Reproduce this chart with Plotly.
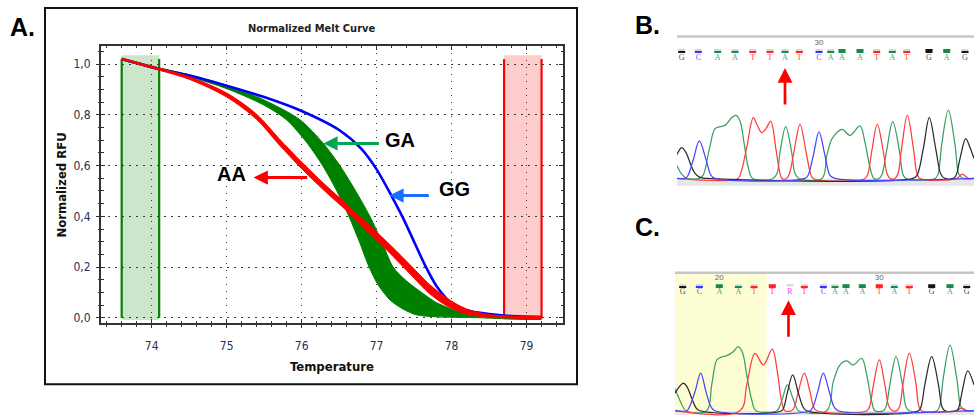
import plotly.graph_objects as go

W, H = 974, 418


def fx(px):
    return px / W


def fy(py):
    return 1 - py / H


# ---------------- Panel A: normalized melt curves ----------------
temp_ticks = [74, 75, 76, 77, 78, 79]
temp_ticktext = ["74", "75", "76", "77", "78", "79"]
rfu_ticks = [0.0, 0.2, 0.4, 0.6, 0.8, 1.0]
rfu_ticktext = ["0,0", "0,2", "0,4", "0,6", "0,8", "1,0"]

pre_melt_region = [73.6, 74.1]
post_melt_region = [78.7, 79.2]

# GG homozygote (single curve)
gg_temp = [73.6, 74.1, 74.5, 75.0, 75.5, 76.0, 76.5, 76.8, 77.0, 77.2, 77.35, 77.5,
           77.65, 77.8, 78.0, 78.2, 78.5, 78.8, 79.2]
gg_rfu = [1.02, 0.98, 0.955, 0.915, 0.87, 0.815, 0.74, 0.665, 0.585, 0.48, 0.395, 0.30,
          0.205, 0.125, 0.058, 0.03, 0.015, 0.007, 0.003]

# GA heterozygote replicates: outer envelope of the curve bundle
ga_upper_temp = [73.6, 74.1, 74.5, 75.0, 75.5, 75.98, 76.29, 76.51, 76.72, 76.91, 77.07,
                 77.22, 77.4, 77.6, 77.8, 78.1, 78.4, 78.8, 79.2]
ga_upper_rfu = [1.024, 0.985, 0.958, 0.916, 0.858, 0.78, 0.687, 0.6, 0.5, 0.4, 0.3,
                0.2, 0.145, 0.1, 0.06, 0.025, 0.01, 0.003, 0.0]
ga_lower_temp = [73.6, 74.1, 74.5, 75.0, 75.5, 75.8, 76.07, 76.28, 76.47, 76.63, 76.77,
                 76.9, 77.02, 77.18, 77.35, 77.53, 77.8, 78.3, 79.2]
ga_lower_rfu = [1.016, 0.977, 0.95, 0.903, 0.838, 0.78, 0.69, 0.6, 0.5, 0.4, 0.3,
                0.2, 0.13, 0.07, 0.035, 0.012, 0.004, 0.001, -0.004]

# AA homozygote replicates: outer envelope
aa_temp = [73.6, 74.1, 74.5, 75.0, 75.4, 75.7, 76.0, 76.3, 76.6, 76.9, 77.2, 77.45,
           77.7, 77.95, 78.2, 78.5, 78.8, 79.2]
aa_upper_rfu = [1.023, 0.984, 0.95, 0.886, 0.802, 0.706, 0.614, 0.528, 0.448, 0.365, 0.282,
                0.208, 0.133, 0.075, 0.035, 0.013, 0.007, 0.003]
aa_lower_rfu = [1.017, 0.976, 0.94, 0.87, 0.782, 0.682, 0.588, 0.502, 0.422, 0.335, 0.248,
                0.172, 0.097, 0.045, 0.015, 0.003, -0.001, -0.004]

# ---------------- Panels B / C: sequencing chromatograms ----------------
b_calls = "GCAATTATCAAATATGAG"
b_call_pos = [4.7, 21.3, 40.7, 58, 75.7, 93, 108, 122.3, 142, 153.7, 165, 183, 199.7,
              215.3, 229.7, 252, 269.7, 288]
b_quality = [1, 1, 1, 1, 1, 1, 1, 1, 1, 0.5, 2, 2, 1, 1, 1, 2, 2, 1]
b_number_pos = [142]
b_number_text = ["30"]
b_marked = 6

b_trace = {
    "A": ([0, 4.7, 9.7, 22, 26, 32.3, 38, 43, 48, 54.7, 59, 63, 67, 71.3, 75.7, 96, 100, 103,
           108.7, 114.7, 118, 122, 145, 149.7, 154.7, 159.7, 165.3, 173, 183, 188, 193, 197,
           202, 205, 209.7, 215.7, 222.3, 226, 229, 258, 261, 264.7, 271.3, 278, 282, 286.3, 297],
          [12.7, 4.3, 0, 0, 3, 29.3, 50, 52, 53.3, 61, 63.3, 57.7, 36, 11, 0, 0, 5, 26,
           52, 26, 5, 0, 0, 22.7, 39.3, 46, 49.3, 43.3, 52.7, 36, 11, 0,
           0, 4, 28.5, 57, 28.5, 4, 0, 0, 4, 34, 68.7, 34, 4, 0, 0]),
    "T": ([0, 61, 64, 69.7, 76.3, 80, 84.7, 89, 93.7, 99, 102, 105, 109.7, 112.5, 117, 123,
           129, 133.5, 136.3, 188, 191, 194.7, 200.3, 206.3, 210, 213, 218, 221, 224.7, 230.3,
           236.3, 240, 243, 279.7, 285.3, 291.3, 297],
          [0, 0, 6, 31, 61, 54, 46, 50, 57.7, 29, 10, 0, 0, 5, 27, 54.3,
           27, 5, 0, 0, 5, 27, 54.3, 27, 5, 0, 0, 5, 31, 63.3,
           31, 5, 0, 0, 4.3, 0, 0]),
    "G": ([0, 4.7, 9, 13.7, 18, 23, 30, 236, 240, 246.3, 252.3, 258.7, 264, 268, 276, 279,
           283, 288.7, 293, 297],
          [24, 31, 26, 14, 5, 1, 0, 0, 3, 30, 61, 30, 4, 0, 0, 3,
           20, 40, 31, 20]),
    "C": ([0, 8, 11, 16.3, 22.3, 29, 34, 38, 128, 131, 136.3, 142, 148, 153, 158, 297],
          [0, 0, 3, 19, 37.7, 19, 3, 0, 0, 3, 23, 46.7, 23, 3, 0, 0]),
}

c_calls = "GCAATTRTCAAATATGAG"
c_call_pos = [7.7, 24.3, 44.3, 63.3, 79, 97.3, 115, 129.3, 148.3, 160, 171, 187.3, 204.3,
              219.3, 234.3, 256.7, 275, 291.7]
c_quality = [1, 1, 2, 1, 1, 2, 0, 1, 1, 1, 2, 2, 2, 1, 1, 2, 2, 1]
c_number_pos = [44.3, 204.3]
c_number_text = ["20", "30"]
c_marked = 6
c_highlight_end = 91.7

c_trace = {
    "A": ([0, 6, 11, 31.7, 36.7, 41.7, 45, 51.7, 58.3, 63.3, 67.7, 71.7, 76.7, 81, 101.7, 104.5,
           107.7, 112.3, 117.7, 121, 123.3, 151.7, 158.3, 165, 171.7, 178.3, 186.7, 191.7, 196.7,
           200, 208.3, 211, 215, 221, 227.3, 231, 234.3, 261.7, 264.5, 268.3, 275, 281.7, 286,
           290, 299],
          [22, 8, 0, 0, 26, 51, 53.3, 55.3, 59.3, 64.3, 57.7, 36, 11, 0, 0, 4,
           13, 26, 13, 4, 0, 0, 29.3, 46, 50, 46, 52.7, 36, 9.3,
           0, 0, 4, 27, 54.3, 27, 4, 0, 0, 4, 33, 66, 33, 4,
           0, 0]),
    "T": ([0, 65, 71.7, 80, 88.3, 97.3, 102.3, 106.7, 110, 116.7, 119.5, 123.3, 129.3, 135,
           138.5, 141.7, 191.7, 194.5, 198.3, 204.3, 210, 214, 217.7, 221.7, 224.5, 228.3, 234.3,
           240.7, 244, 246.7, 281, 286.7, 292, 299],
          [0, 0, 26, 57.7, 46, 62, 39.3, 9.3, 0, 0, 4, 19, 37.7, 19,
           4, 0, 0, 4, 25, 51, 25, 4, 0, 0, 4, 29, 57.7,
           29, 4, 0, 0, 2.7, 0, 0]),
    "G": ([0, 8.3, 12, 16.7, 21, 25, 106.7, 109, 112.3, 117.7, 123.3, 128, 131.7, 243.3, 246,
           250, 256.7, 263.3, 267, 270, 281.7, 284, 287.3, 292.7, 299],
          [17.7, 27.7, 24, 12.7, 3, 0, 0, 4, 18, 36, 18, 4, 0, 0, 4,
           27, 54.3, 27, 4, 0, 0, 4, 20, 40, 26]),
    "C": ([0, 11.7, 14.5, 20, 25.7, 31, 36, 40, 135, 138, 142.7, 148.3, 154.3, 159, 163.3, 299],
          [0, 0, 4, 19, 37.7, 19, 4, 0, 0, 4, 19, 37.7, 19, 4, 0, 0]),
}

trace_color = {"A": "#3c9e64", "T": "#ff3c3c", "G": "#2a2a2a", "C": "#4646ff"}
letter_color = {"A": "#45a571", "T": "#ff4d4d", "G": "#555555", "C": "#5a5aff", "R": "#ff3cff"}
bar_color = {"A": "#178a4a", "T": "#ff2424", "G": "#151515", "C": "#3434ff", "R": "#d6d6d6"}

NARROW = "Liberation Sans Narrow, DejaVu Sans Condensed, Arial Narrow, sans-serif"
BOLD = "Liberation Sans, Arial, sans-serif"

fig = go.Figure()

# melt curves: GA bundle, GG, AA bundle on top
fig.add_trace(go.Scatter(
    x=ga_upper_temp + ga_lower_temp[::-1], y=ga_upper_rfu + ga_lower_rfu[::-1],
    fill="toself", fillcolor="#008000", mode="lines",
    line=dict(color="#008000", width=1.0, shape="spline", smoothing=0.8),
    xaxis="x", yaxis="y", hoverinfo="skip"))
fig.add_trace(go.Scatter(
    x=gg_temp, y=gg_rfu, mode="lines",
    line=dict(color="#0000ff", width=2.6, shape="spline", smoothing=0.8),
    xaxis="x", yaxis="y", hoverinfo="skip"))
fig.add_trace(go.Scatter(
    x=aa_temp + aa_temp[::-1], y=aa_upper_rfu + aa_lower_rfu[::-1],
    fill="toself", fillcolor="#ff0000", mode="lines",
    line=dict(color="#ff0000", width=1.0, shape="spline", smoothing=0.9),
    xaxis="x", yaxis="y", hoverinfo="skip"))
# carrier for the outward tick axes
fig.add_trace(go.Scatter(x=[None], y=[None], xaxis="x4", yaxis="y4", hoverinfo="skip"))


def chromatogram(calls, pos, quality, traces, numbers_pos, numbers_text, xa, ya,
                 y_letter, y_bar_hi, y_bar_lo, y_num):
    for base in ["A", "T", "G", "C"]:
        xs, ys = traces[base]
        fig.add_trace(go.Scatter(
            x=xs, y=ys, mode="lines",
            line=dict(color=trace_color[base], width=1.25, shape="spline", smoothing=1.0),
            xaxis=xa, yaxis=ya, hoverinfo="skip"))
    # quality bars: grey cap + coloured part
    fig.add_trace(go.Scatter(
        x=pos, y=[y_bar_hi] * len(pos), mode="markers",
        marker=dict(symbol="line-ew", size=5, line=dict(width=2, color="#d6d6d6")),
        xaxis=xa, yaxis=ya, hoverinfo="skip"))
    lo_x = [p for p, q in zip(pos, quality) if q > 0]
    lo_c = [bar_color[b] for b, q in zip(calls, quality) if q > 0]
    fig.add_trace(go.Scatter(
        x=lo_x, y=[y_bar_lo] * len(lo_x), mode="markers",
        marker=dict(symbol="line-ew", size=5, line=dict(width=2, color=lo_c)),
        xaxis=xa, yaxis=ya, hoverinfo="skip"))
    hi_x = [p for p, q in zip(pos, quality) if q >= 2]
    hi_c = [bar_color[b] for b, q in zip(calls, quality) if q >= 2]
    fig.add_trace(go.Scatter(
        x=hi_x, y=[y_bar_hi] * len(hi_x), mode="markers",
        marker=dict(symbol="line-ew", size=5, line=dict(width=2, color=hi_c)),
        xaxis=xa, yaxis=ya, hoverinfo="skip"))
    fig.add_trace(go.Scatter(
        x=pos, y=[y_letter] * len(pos), mode="text", text=list(calls),
        textfont=dict(family="Liberation Serif, DejaVu Serif, serif", size=8,
                      color=[letter_color[b] for b in calls]),
        xaxis=xa, yaxis=ya, hoverinfo="skip", cliponaxis=False))
    fig.add_trace(go.Scatter(
        x=numbers_pos, y=[y_num] * len(numbers_pos), mode="text", text=numbers_text,
        textfont=dict(family=BOLD, size=8, color="#666666"),
        xaxis=xa, yaxis=ya, hoverinfo="skip", cliponaxis=False))


chromatogram(b_calls, b_call_pos, b_quality, b_trace, b_number_pos, b_number_text,
             "x2", "y2", 121.0, 129.0, 127.0, 136.0)
chromatogram(c_calls, c_call_pos, c_quality, c_trace, c_number_pos, c_number_text,
             "x3", "y3", 119.4, 126.2, 124.2, 133.4)

shapes = []
# normalization regions on the melt plot
for (t0, t1), fillc, edge in [(pre_melt_region, "rgba(0,128,0,0.2)", "#008000"),
                              (post_melt_region, "rgba(255,0,0,0.2)", "#ff0000")]:
    shapes.append(dict(type="rect", xref="x", yref="y", x0=t0, x1=t1, y0=-0.008, y1=1.035,
                       fillcolor=fillc, line=dict(width=0), layer="below"))
    for t in (t0, t1):
        shapes.append(dict(type="line", xref="x", yref="y", x0=t, x1=t, y0=0.0, y1=1.02,
                           line=dict(color=edge, width=2.2), layer="below"))

# panel frame around A
shapes.append(dict(type="rect", xref="paper", yref="paper", x0=fx(45), x1=fx(577),
                   y0=fy(386), y1=fy(8), line=dict(color="#111111", width=2)))

# chromatogram decorations
shapes.append(dict(type="rect", xref="x3", yref="y3", x0=0, x1=c_highlight_end, y0=0, y1=137.2,
                   fillcolor="#fdfdd4", line=dict(width=0), layer="below"))
for xa, ya, y_lo, y_bar in [("x2", "y2", -7.4, 142.6), ("x3", "y3", -4.0, 138.7)]:
    shapes.append(dict(type="rect", xref=xa + " domain", yref=ya, x0=0, x1=1, y0=y_lo, y1=-0.4,
                       fillcolor="#e6e6e6", line=dict(width=0), layer="below"))
    shapes.append(dict(type="rect", xref=xa + " domain", yref=ya, x0=0, x1=1,
                       y0=y_bar - 1.3, y1=y_bar + 1.3,
                       fillcolor="#c6c6c6", line=dict(width=0), layer="below"))


def label(text, x, y, size, family=BOLD, color="#000000", xref="paper", yref="paper", **kw):
    return dict(text=text, x=x, y=y, xref=xref, yref=yref, showarrow=False,
                xanchor="center", yanchor="middle",
                font=dict(family=family, size=size, color=color), **kw)


def arrow(x, y, ax, ay, color, xref, yref, width, size):
    return dict(text="", x=x, y=y, xref=xref, yref=yref, ax=ax, ay=ay, showarrow=True,
                arrowhead=2, arrowsize=size, arrowwidth=width, arrowcolor=color)


annotations = [
    label("<b>A.</b>", fx(22), fy(27), 25),
    label("<b>B.</b>", fx(647), fy(25.5), 25),
    label("<b>C.</b>", fx(647), fy(228.5), 25),
    label("<b>Normalized Melt Curve</b>", fx(312), fy(29), 11, NARROW, "#222222"),
    label("<b>Temperature</b>", fx(332), fy(368), 13, NARROW, "#111111"),
    label("<b>Normalized RFU</b>", fx(61.5), fy(186), 13, NARROW, "#111111", textangle=-90),
    # genotype labels and arrows
    label("<b>GA</b>", 77.31, 0.70, 20, xref="x", yref="y"),
    label("<b>AA</b>", 75.06, 0.568, 20, xref="x", yref="y"),
    label("<b>GG</b>", 78.04, 0.509, 20, xref="x", yref="y"),
    arrow(76.29, 0.687, 57, 0, "#00a651", "x", "y", 3, 0.95),
    arrow(75.36, 0.553, 55, 0, "#ff0000", "x", "y", 3, 0.95),
    arrow(77.17, 0.482, 41, 0, "#1a6dff", "x", "y", 3, 0.95),
    # variant position arrows below the base calls
    arrow(b_call_pos[b_marked], fy(68.3), 0, 38, "#ff0000", "x2", "paper", 2.7, 1.1),
    arrow(c_call_pos[c_marked] - 1.5, fy(301.7), 0, 38, "#ff0000", "x3", "paper", 2.7, 1.1),
]

axis_line = "#333333"
tick_font = dict(family=NARROW, size=12, color="#2e2e50")

fig.update_layout(
    width=W, height=H, margin=dict(l=0, r=0, t=0, b=0),
    paper_bgcolor="#ffffff", plot_bgcolor="rgba(0,0,0,0)", showlegend=False,
    shapes=shapes, annotations=annotations,
    xaxis=dict(domain=[fx(101), fx(563.3)], range=[73.324, 79.49], anchor="y",
               tickmode="array", tickvals=temp_ticks, ticktext=temp_ticktext,
               ticks="inside", ticklen=4, tickwidth=1.3, tickcolor=axis_line,
               mirror="allticks", showline=True, linecolor=axis_line, linewidth=2,
               showgrid=True, gridcolor="#3a3a3a", gridwidth=1, griddash="1.5px,5.5px",
               zeroline=False, tickfont=tick_font, ticklabelstandoff=10,
               minor=dict(ticks="inside", ticklen=2.5, tickwidth=1.1, dtick=0.2, tick0=74,
                          tickcolor=axis_line, showgrid=False)),
    yaxis=dict(domain=[fy(325), fy(46)], range=[-0.022, 1.072], anchor="x",
               tickmode="array", tickvals=rfu_ticks, ticktext=rfu_ticktext,
               ticks="inside", ticklen=4, tickwidth=1.3, tickcolor=axis_line,
               mirror="allticks", showline=True, linecolor=axis_line, linewidth=2,
               showgrid=True, gridcolor="#3a3a3a", gridwidth=1, griddash="1.5px,5.5px",
               zeroline=False, tickfont=tick_font, ticklabelstandoff=6,
               minor=dict(ticks="inside", ticklen=2.5, tickwidth=1.1, dtick=0.05, tick0=0,
                          tickcolor=axis_line, showgrid=False)),
    xaxis4=dict(overlaying="x", anchor="y", side="bottom", range=[73.324, 79.49],
                tickmode="linear", tick0=74, dtick=1, ticks="outside", ticklen=4,
                tickwidth=1.3, tickcolor=axis_line, showticklabels=False, showgrid=False,
                showline=False, zeroline=False,
                minor=dict(ticks="outside", ticklen=2.5, tickwidth=1.1, dtick=0.2, tick0=74,
                           tickcolor=axis_line, showgrid=False)),
    yaxis4=dict(overlaying="y", anchor="x", side="left", range=[-0.022, 1.072],
                tickmode="linear", tick0=0, dtick=0.2, ticks="outside", ticklen=4,
                tickwidth=1.3, tickcolor=axis_line, showticklabels=False, showgrid=False,
                showline=False, zeroline=False,
                minor=dict(ticks="outside", ticklen=2.5, tickwidth=1.1, dtick=0.05, tick0=0,
                           tickcolor=axis_line, showgrid=False)),
    xaxis2=dict(domain=[fx(677), 1.0], range=[0, 297], anchor="y2", visible=False),
    yaxis2=dict(domain=[fy(187), fy(30)], range=[-7.7, 149.3], anchor="x2", visible=False),
    xaxis3=dict(domain=[fx(675), 1.0], range=[0, 299], anchor="y3", visible=False),
    yaxis3=dict(domain=[0.0, fy(265)], range=[-5.3, 147.7], anchor="x3", visible=False),
)

fig.write_html("out.html")
